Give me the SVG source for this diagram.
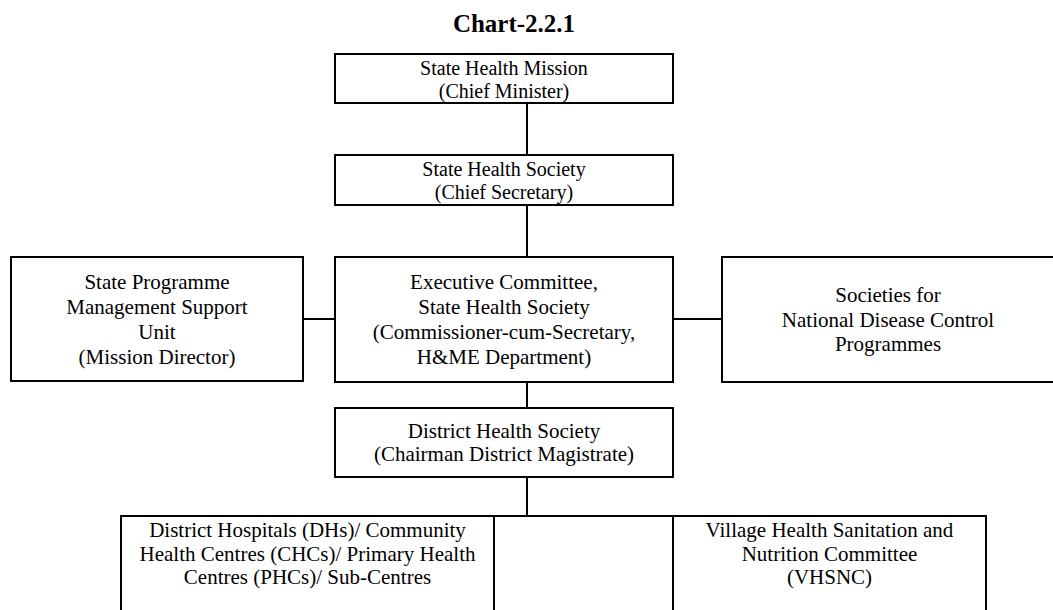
<svg xmlns="http://www.w3.org/2000/svg" width="1053" height="610" viewBox="0 0 1053 610">
<style>
.box{fill:#fff;stroke:#000;stroke-width:2}
.ln{stroke:#000;stroke-width:2;fill:none}
text{font-family:"Liberation Serif","Times New Roman",serif;font-size:21px;fill:#000;text-anchor:middle}
.sm{font-size:20px}
.title{font-size:25px;font-weight:bold}
</style>
<rect width="1053" height="610" fill="#fff"/>
<text class="title" x="514" y="32">Chart-2.2.1</text>
<g id="connectors">
<line class="ln" x1="527" y1="103" x2="527" y2="155"/>
<line class="ln" x1="527" y1="205" x2="527" y2="257"/>
<line class="ln" x1="303" y1="319" x2="335" y2="319"/>
<line class="ln" x1="673" y1="319" x2="722" y2="319"/>
<line class="ln" x1="527" y1="382" x2="527" y2="408"/>
<line class="ln" x1="527" y1="477" x2="527" y2="516"/>
<line class="ln" x1="494" y1="516" x2="673" y2="516"/>
</g>
<g id="shm">
<rect class="box" x="335" y="54" width="338" height="49"/>
<text class="sm" x="504" y="75">State Health Mission</text>
<text class="sm" x="504" y="98">(Chief Minister)</text>
</g>
<g id="shs">
<rect class="box" x="335" y="155" width="338" height="50"/>
<text class="sm" x="504" y="176">State Health Society</text>
<text class="sm" x="504" y="199">(Chief Secretary)</text>
</g>
<g id="spmsu">
<rect class="box" x="11" y="257" width="292" height="124"/>
<text x="157" y="289">State Programme</text>
<text x="157" y="314">Management Support</text>
<text x="157" y="339">Unit</text>
<text x="157" y="364">(Mission Director)</text>
</g>
<g id="exec">
<rect class="box" x="335" y="257" width="338" height="125"/>
<text x="504" y="289">Executive Committee,</text>
<text x="504" y="314">State Health Society</text>
<text x="504" y="339">(Commissioner-cum-Secretary,</text>
<text x="504" y="364">H&amp;ME Department)</text>
</g>
<g id="sndcp">
<rect class="box" x="722" y="257" width="334" height="125"/>
<text x="888" y="302">Societies for</text>
<text x="888" y="327">National Disease Control</text>
<text x="888" y="351">Programmes</text>
</g>
<g id="dhs">
<rect class="box" x="335" y="408" width="338" height="69"/>
<text x="504" y="438">District Health Society</text>
<text x="504" y="461">(Chairman District Magistrate)</text>
</g>
<g id="facilities">
<rect class="box" x="121" y="516" width="373" height="110"/>
<text x="307.5" y="537">District Hospitals (DHs)/ Community</text>
<text x="307.5" y="561">Health Centres (CHCs)/ Primary Health</text>
<text x="307.5" y="584">Centres (PHCs)/ Sub-Centres</text>
</g>
<g id="vhsnc">
<rect class="box" x="673" y="516" width="313" height="110"/>
<text x="829.5" y="537">Village Health Sanitation and</text>
<text x="829.5" y="561">Nutrition Committee</text>
<text x="829.5" y="584">(VHSNC)</text>
</g>
</svg>
